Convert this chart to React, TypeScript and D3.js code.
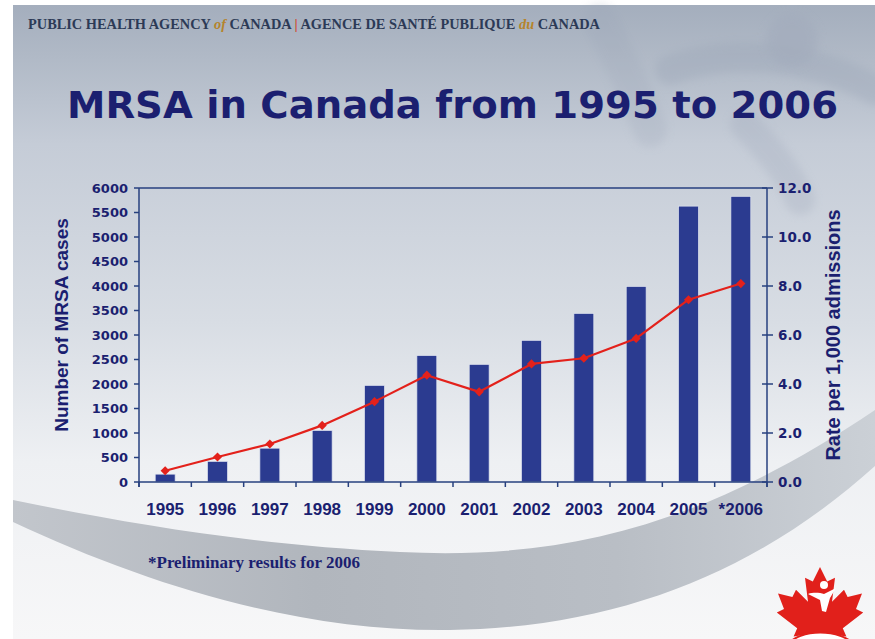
import { useEffect } from "react";
import * as d3 from "d3";

// Données
const years = ["1995", "1996", "1997", "1998", "1999", "2000", "2001", "2002", "2003", "2004", "2005", "*2006"];
const cases = [160, 420, 690, 1050, 1970, 2580, 2400, 2890, 3440, 3990, 5630, 5830];
const rates = [0.46, 1.02, 1.55, 2.31, 3.28, 4.36, 3.68, 4.82, 5.05, 5.86, 7.44, 8.1];
const caseTicks = [0, 500, 1000, 1500, 2000, 2500, 3000, 3500, 4000, 4500, 5000, 5500, 6000];
const rateTicks = [0, 2, 4, 6, 8, 10, 12];

const W = 875;
const H = 639;
const plot = { left: 139, right: 767, top: 188, bottom: 482 };

const NAVY = "#1b1f70";
const AXIS = "#27407f";
const BAR = "#2b3b90";
const RED = "#e3211b";

// Feuille d'érable (logo), en unités relatives
const leafPts: [number, number][] = [
  [0, -1], [0.12, -0.76], [0.25, -0.82], [0.2, -0.42], [0.4, -0.62], [0.46, -0.5],
  [0.7, -0.56], [0.6, -0.3], [0.72, -0.24], [0.38, 0.02], [0.44, 0.16], [0.05, 0.1],
  [0.05, 0.42], [-0.05, 0.42], [-0.05, 0.1], [-0.44, 0.16], [-0.38, 0.02], [-0.72, -0.24],
  [-0.6, -0.3], [-0.7, -0.56], [-0.46, -0.5], [-0.4, -0.62], [-0.2, -0.42], [-0.25, -0.82],
  [-0.12, -0.76],
];

export default function App() {
  useEffect(() => {
    document.body.style.margin = "0";
  }, []);

  const x = d3
    .scaleBand<string>()
    .domain(years)
    .range([plot.left, plot.right])
    .paddingInner(0.62)
    .paddingOuter(0.31);
  const step = x.step();
  const yL = d3.scaleLinear().domain([0, 6000]).range([plot.bottom, plot.top]);
  const yR = d3.scaleLinear().domain([0, 12]).range([plot.bottom, plot.top]);
  const cx = (y: string) => (x(y) ?? 0) + x.bandwidth() / 2;

  const line = d3
    .line<number>()
    .x((_, i) => cx(years[i]))
    .y((d) => yR(d));
  const marker = d3.symbol().type(d3.symbolSquare).size(42)() || "";

  const leaf =
    d3
      .line<[number, number]>()
      .x((p) => 820 + p[0] * 60)
      .y((p) => 627 + p[1] * 60)
      .curve(d3.curveLinearClosed)(leafPts) || "";

  const boundaries = d3.range(years.length + 1).map((i) => plot.left + i * step);

  return (
    <div style={{ position: "absolute", left: 0, top: 0 }}>
      <svg width={W} height={H} style={{ display: "block" }}>
        <defs>
          <linearGradient id="bg" x1="0" y1="0" x2="0" y2="1">
            <stop offset="0%" stopColor="#a4aebd" />
            <stop offset="8%" stopColor="#b0b9c6" />
            <stop offset="22%" stopColor="#c5ccd7" />
            <stop offset="50%" stopColor="#d8dde4" />
            <stop offset="72%" stopColor="#eef0f3" />
            <stop offset="100%" stopColor="#f7f7f8" />
          </linearGradient>
          <linearGradient id="swoosh" x1="0" y1="0" x2="1" y2="0">
            <stop offset="0%" stopColor="#c2c6cc" />
            <stop offset="35%" stopColor="#b1b6bd" />
            <stop offset="70%" stopColor="#b9bec5" />
            <stop offset="100%" stopColor="#cbd0d6" />
          </linearGradient>
          <filter id="soft" x="-20%" y="-20%" width="140%" height="140%">
            <feGaussianBlur stdDeviation="4" />
          </filter>
        </defs>

        {/* fond de la diapositive */}
        <rect width={W} height={H} fill="#ffffff" />
        <rect x={13} y={5} width={W - 13} height={H - 5} fill="url(#bg)" />

        {/* silhouette du logo en haut à droite */}
        <g opacity={0.35} fill="none" stroke="#9aa4b6" strokeLinecap="round" filter="url(#soft)">
          <path d="M 600 20 C 620 60 640 100 650 130" strokeWidth={34} opacity={0.6} />
          <path d="M 670 70 C 740 45 820 60 875 90" strokeWidth={30} />
          <path d="M 745 125 C 770 150 790 175 800 200" strokeWidth={30} opacity={0.7} />
        </g>
        <circle cx={792} cy={40} r={26} fill="#a2abbc" opacity={0.6} filter="url(#soft)" />

        {/* bande grise en bas */}
        <path
          d="M 13 500 C 120 522 250 545 400 552 C 560 560 700 528 875 410 L 875 466 C 760 570 620 628 450 630 C 300 632 150 586 13 522 Z"
          fill="url(#swoosh)"
        />

        {/* en-tête */}
        <text
          x={28}
          y={29}
          fontFamily="'Liberation Serif', 'DejaVu Serif', serif"
          fontWeight="bold"
          fontSize={14.5}
          fill="#2c3a56"
          textLength={572}
          lengthAdjust="spacingAndGlyphs"
        >
          PUBLIC HEALTH AGENCY{" "}
          <tspan fontStyle="italic" fill="#b5842c">of</tspan> CANADA{"  "}
          <tspan fill="#d0452a">|</tspan>{"  "}AGENCE DE SANTÉ PUBLIQUE{" "}
          <tspan fontStyle="italic" fill="#b5842c">du</tspan> CANADA
        </text>

        {/* titre */}
        <text
          x={67}
          y={118}
          fontFamily="'DejaVu Sans', Verdana, sans-serif"
          fontWeight="bold"
          fontSize={37}
          fill={NAVY}
          textLength={771}
          lengthAdjust="spacingAndGlyphs"
        >
          MRSA in Canada from 1995 to 2006
        </text>

        {/* barres */}
        {cases.map((v, i) => (
          <rect
            key={years[i]}
            x={x(years[i])}
            y={yL(v)}
            width={x.bandwidth()}
            height={yL(0) - yL(v)}
            fill={BAR}
            stroke="#dde2ee"
            strokeWidth={0.7}
          />
        ))}

        {/* cadre et axes */}
        <g stroke={AXIS} strokeWidth={1.5} fill="none">
          <line x1={plot.left} x2={plot.right} y1={plot.top} y2={plot.top} />
          <line x1={plot.left} x2={plot.right} y1={plot.bottom} y2={plot.bottom} />
          <line x1={plot.left} x2={plot.left} y1={plot.top} y2={plot.bottom + 5} />
          <line x1={plot.right} x2={plot.right} y1={plot.top} y2={plot.bottom + 5} />
          {caseTicks.map((t) => (
            <line key={t} x1={plot.left - 5} x2={plot.left} y1={yL(t)} y2={yL(t)} />
          ))}
          {rateTicks.map((t) => (
            <line key={t} x1={plot.right - 5} x2={plot.right + 6} y1={yR(t)} y2={yR(t)} />
          ))}
          {boundaries.map((b) => (
            <line key={b} x1={b} x2={b} y1={plot.bottom} y2={plot.bottom + 5} />
          ))}
        </g>

        {/* courbe du taux */}
        <path d={line(rates) || ""} fill="none" stroke={RED} strokeWidth={2.2} strokeLinejoin="round" />
        {rates.map((r, i) => (
          <path
            key={years[i]}
            d={marker}
            transform={`translate(${cx(years[i])},${yR(r)}) rotate(45)`}
            fill={RED}
          />
        ))}

        {/* étiquettes des axes verticaux */}
        <g fontFamily="'DejaVu Sans', Verdana, sans-serif" fontWeight="bold" fontSize={13} fill={NAVY}>
          {caseTicks.map((t) => (
            <text key={t} x={plot.left - 11} y={yL(t)} dy="0.36em" textAnchor="end">
              {t}
            </text>
          ))}
          {rateTicks.map((t) => (
            <text key={t} x={plot.right + 11} y={yR(t)} dy="0.36em" textAnchor="start" fontSize={13.5}>
              {t.toFixed(1)}
            </text>
          ))}
        </g>

        {/* étiquettes des années */}
        <g fontFamily="'Liberation Sans', Arial, sans-serif" fontWeight="bold" fontSize={17} fill={NAVY}>
          {years.map((y) => (
            <text key={y} x={cx(y)} y={515} textAnchor="middle">
              {y}
            </text>
          ))}
        </g>

        {/* titres des axes */}
        <text
          transform="translate(68,325) rotate(-90)"
          textAnchor="middle"
          fontFamily="'Liberation Sans', Arial, sans-serif"
          fontWeight="bold"
          fontSize={19}
          fill={NAVY}
        >
          Number of MRSA cases
        </text>
        <text
          transform="translate(840,335) rotate(-90)"
          textAnchor="middle"
          fontFamily="'Liberation Sans', Arial, sans-serif"
          fontWeight="bold"
          fontSize={20}
          fill={NAVY}
        >
          Rate per 1,000 admissions
        </text>

        {/* note */}
        <text
          x={148}
          y={568}
          fontFamily="'Liberation Serif', 'Times New Roman', serif"
          fontWeight="bold"
          fontSize={17}
          fill={NAVY}
        >
          *Preliminary results for 2006
        </text>

        {/* feuille d'érable */}
        <path d={leaf} fill="#e1201b" />
        <circle cx={824} cy={585} r={4} fill="#ffffff" />
        <path
          d="M 808 594 C 814 592 820 593 824 594 C 828 592 832 590 836 588 L 830 598 L 826 612 L 822 611 L 820 600 Z"
          fill="#ffffff"
        />
        <path d="M 786 646 C 800 628 840 628 856 646" fill="#ffffff" stroke="#e1201b" strokeWidth={2} />
      </svg>
    </div>
  );
}
